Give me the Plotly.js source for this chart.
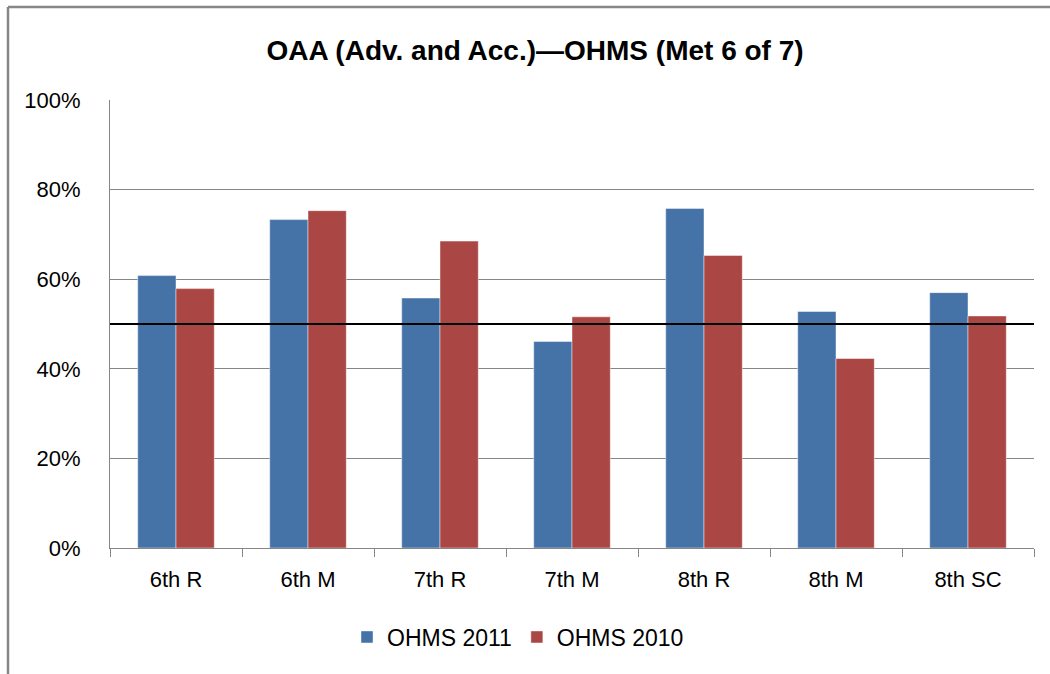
<!DOCTYPE html>
<html>
<head>
<meta charset="utf-8">
<script src="https://cdn.plot.ly/plotly-3.0.1.min.js"></script>
<style>
html,body{margin:0;padding:0;background:#fff;}
#chart{width:1050px;height:674px;}
</style>
</head>
<body>
<div id="chart"></div>
<script>
var categories = ["6th R", "6th M", "7th R", "7th M", "8th R", "8th M", "8th SC"];
var ohms2011 = [0.608, 0.733, 0.558, 0.461, 0.758, 0.528, 0.570];
var ohms2010 = [0.579, 0.753, 0.685, 0.516, 0.653, 0.423, 0.518];
var yTicks = [0, 0.2, 0.4, 0.6, 0.8, 1.0];
var yTickLabels = ["0%", "20%", "40%", "60%", "80%", "100%"];
var target = 0.5;

var FONT = "Liberation Sans, Arial, sans-serif";
var W = 1050, H = 674, L = 110, R = 16, T = 100, B = 126;
var pw = W - L - R, ph = H - T - B;
function px2x(p){ return (p - L) / pw; }
function py2y(p){ return (H - B - p) / ph; }

var traces = [
  {type: "bar", name: "OHMS 2011", x: categories, y: ohms2011,
   marker: {color: "#4572A7", line: {color: "rgba(255,255,255,0.45)", width: 1}}},
  {type: "bar", name: "OHMS 2010", x: categories, y: ohms2010,
   marker: {color: "#AA4643", line: {color: "rgba(255,255,255,0.45)", width: 1}}}
];

var layout = {
  width: W, height: H,
  margin: {l: L, r: R, t: T, b: B, pad: 0},
  paper_bgcolor: "#fff", plot_bgcolor: "#fff",
  font: {family: FONT, size: 22, color: "#000"},
  title: {text: "<b>OAA (Adv. and Acc.)\u2014OHMS (Met 6 of 7)</b>",
          font: {family: FONT, size: 28, color: "#000"},
          x: px2x(535), xref: "paper", xanchor: "center",
          y: 1 - 50 / H, yref: "container", yanchor: "middle"},
  barmode: "group", bargap: 0.42, bargroupgap: 0,
  showlegend: true,
  legend: {orientation: "h", x: px2x(518), xanchor: "center", y: py2y(637), yanchor: "middle",
           font: {family: FONT, size: 23}, itemwidth: 30, traceorder: "normal", itemclick: false},
  xaxis: {type: "category", showline: true, linecolor: "#868686", linewidth: 1,
          ticks: "outside", tickson: "boundaries", ticklen: 8, tickcolor: "#868686",
          ticklabelstandoff: 12,
          showgrid: false, tickfont: {family: FONT, size: 22}, fixedrange: true},
  yaxis: {range: [0, 1], tickvals: yTicks, ticktext: yTickLabels,
          showline: true, linecolor: "#868686", linewidth: 1,
          showgrid: true, gridcolor: "#868686", gridwidth: 1, zeroline: false,
          ticks: "", ticklabelstandoff: 24, tickfont: {family: FONT, size: 22}, fixedrange: true},
  shapes: [
    {type: "line", xref: "paper", yref: "y", x0: 0, x1: 1, y0: target, y1: target,
     line: {color: "#000", width: 2}},
    {type: "line", xref: "paper", yref: "paper", x0: px2x(8), x1: px2x(1060), y0: py2y(7), y1: py2y(7),
     line: {color: "#868686", width: 2.5}},
    {type: "line", xref: "paper", yref: "paper", x0: px2x(8), x1: px2x(8), y0: py2y(7), y1: py2y(680),
     line: {color: "#868686", width: 2.5}}
  ]
};

Plotly.newPlot("chart", traces, layout, {displayModeBar: false, staticPlot: true});
</script>
</body>
</html>
